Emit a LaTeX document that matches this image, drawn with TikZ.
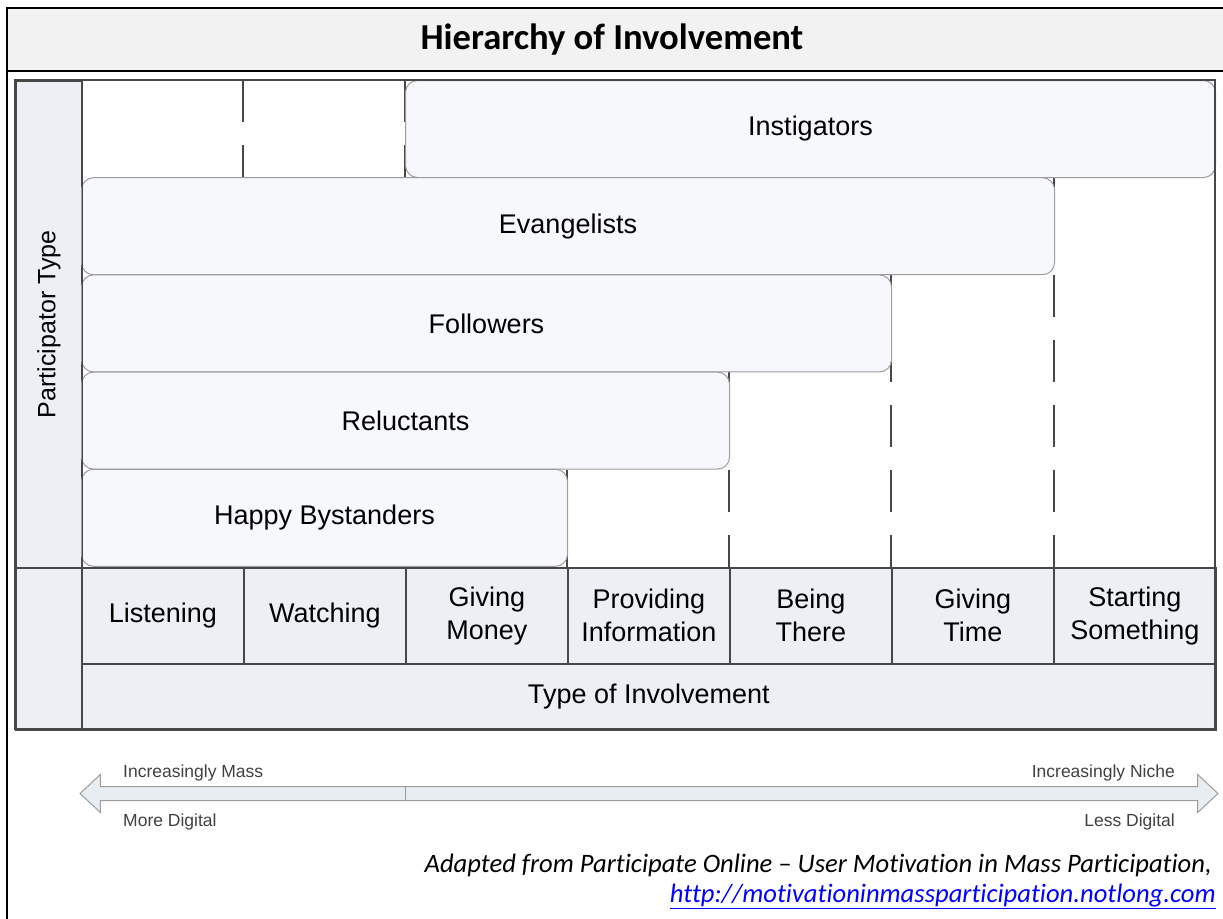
\documentclass[tikz,border=0pt]{standalone}
\usepackage{fontspec}
\setmainfont{Liberation Sans}
\newfontfamily\calibrifont[Ligatures=NoCommon]{Carlito}
\usetikzlibrary{shapes.arrows,positioning,calc}

\definecolor{bandgrey}{HTML}{F2F2F2}
\definecolor{cellfill}{HTML}{ECEFF3}
\definecolor{barfill}{HTML}{F6F8FB}
\definecolor{barline}{HTML}{9C9C9C}
\definecolor{gridline}{HTML}{474747}
\definecolor{arrowfill}{HTML}{E8EDF2}
\definecolor{linkblue}{HTML}{0000FF}

\begin{document}
\begin{tikzpicture}[
    x=1pt, y=-1pt,
    bar/.style={draw=barline, fill=barfill, rounded corners=12pt, line width=1pt, anchor=north west, inner sep=0pt, minimum height=97pt, font=\fontsize{27}{32}\selectfont},
    cell/.style={draw=gridline, fill=cellfill, line width=1.6pt, anchor=north west, inner sep=0pt, align=center, minimum width=162pt, minimum height=96pt, font=\fontsize{27}{33}\selectfont},
    divider/.style={draw=gridline, line width=1.6pt, dash pattern=on 42pt off 23pt},
    note/.style={anchor=base west, inner sep=0pt, text=black!75, font=\fontsize{17.5}{20}\selectfont},
    credit/.style={anchor=base east, inner sep=0pt, font=\calibrifont\itshape\fontsize{26.6}{30}\selectfont},
]
    \clip (0,0) rectangle (1223,918);

    % title band and frame
    \fill[bandgrey] (7,8) rectangle (1240,71);
    \draw[line width=2.6pt] (7,940) -- (7,8) -- (1240,8);
    \draw[line width=2.4pt] (7,71) -- (1240,71);
    \node[font=\calibrifont\bfseries\fontsize{36.6}{40}\selectfont] (title) at (612,40) {Hierarchy of Involvement};

    % left column
    \node[cell, minimum width=66pt, minimum height=487pt] (ptype) at (15,80) {};
    \node[rotate=90, font=\fontsize{25}{30}\selectfont] (ptypelabel) at (ptype.center) {Participator Type};
    \node[cell, minimum width=66pt, minimum height=162pt] (corner) at (15,567) {};

    % column dividers, dashed where no bar covers them
    \foreach \x in {243,405,567,729,891,1054}
        \draw[divider] (\x,80) -- (\x,567);

    % participator bars
    \node[bar, minimum width=810pt] (instigators) at (405,80) {Instigators};
    \node[bar, minimum width=973pt] (evangelists) at (81,177.2) {Evangelists};
    \node[bar, minimum width=810pt] (followers) at (81,274.4) {Followers};
    \node[bar, minimum width=648pt] (reluctants) at (81,371.6) {Reluctants};
    \node[bar, minimum width=486pt] (bystanders) at (81,468.8) {Happy Bystanders};

    % involvement columns
    \foreach \name/\txt [count=\i from 0] in {listening/{Listening}, watching/{Watching}, money/{Giving\\Money}, info/{Providing\\Information}, there/{Being\\There}, time/{Giving\\Time}, starting/{Starting\\Something}}
        \node[cell] (\name) at (81+162*\i,567) {\txt};
    \node[cell, minimum width=1134pt, minimum height=66pt] (typeinv) at (81,663) {Type of Involvement};

    \draw[gridline, line width=1.8pt] (15,80) rectangle (1215,729);
    \draw[gridline, line width=1.6pt] (ptype.north east) -- (corner.south east);

    % mass / niche scale
    \node[double arrow, draw=barline, fill=arrowfill, line width=1pt, inner xsep=0pt, inner ysep=6.5pt,
          minimum height=1138pt, double arrow head extend=12pt, double arrow tip angle=86] (scale) at (649,793.5) {};
    \draw[barline, line width=1pt] (405,787) -- (405,800);
    \node[note] (mass) at (123,777) {Increasingly Mass};
    \node[note] (moredigital) at (123,826) {More Digital};
    \node[note, anchor=base east] (niche) at (1175,777) {Increasingly Niche};
    \node[note, anchor=base east] (lessdigital) at (1175,826) {Less Digital};

    % source
    \node[credit] (source) at (1212,872) {Adapted from Participate Online – User Motivation in Mass Participation,};
    \node[credit, text=linkblue] (url) at (1216,902) {\underline{http://motivationinmassparticipation.notlong.com}};
\end{tikzpicture}
\end{document}
